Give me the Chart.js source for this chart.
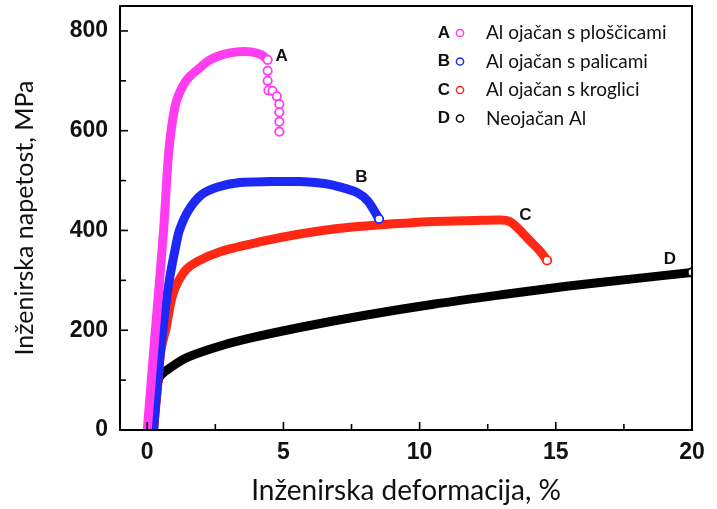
<!DOCTYPE html>
<html>
<head>
<meta charset="utf-8">
<script src="https://cdn.jsdelivr.net/npm/chart.js@4/dist/chart.umd.min.js"></script>
<style>
  html, body { margin: 0; padding: 0; background: #fff; }
  #wrap { width: 717px; height: 509px; }
</style>
</head>
<body>
<div id="wrap"><canvas id="stressChart"></canvas></div>
<script>
// Curve A - Al ojačan s ploščicami
const strainA = [0, 0.3, 0.6, 0.76, 0.88, 1.06, 1.31, 1.55, 1.86, 2.3, 2.8, 3.3, 3.8, 4.2, 4.42];
const stressA = [0, 200, 400, 537, 602, 657, 690, 708, 723, 742, 753, 758, 758, 752, 742];
// open circles after the peak of A
const tailStrainA = [4.42, 4.42, 4.42, 4.45, 4.6, 4.76, 4.85, 4.85, 4.85, 4.85];
const tailStressA = [742, 720, 700, 681, 680, 669, 653, 637, 618, 598];

// Curve B - Al ojačan s palicami
const strainB = [0.23, 0.39, 0.57, 0.81, 1.06, 1.18, 1.49, 1.98, 2.59, 3.4, 4.5, 5.6, 6.5, 7.1, 7.7, 8.1, 8.51];
const stressB = [0, 100, 200, 300, 372, 400, 438, 471, 487, 496, 498, 498, 494, 487, 476, 459, 423];

// Curve C - Al ojačan s kroglici
const strainC = [0.23, 0.4, 0.5, 0.7, 0.94, 1.37, 1.85, 2.7, 4.2, 5.6, 7.0, 8.45, 10.5, 12.0, 12.97, 13.3, 13.6, 14.07, 14.4, 14.68];
const stressC = [0, 100, 160, 206, 272, 318, 338, 358, 378, 393, 404, 411, 418, 420, 421, 418, 405, 378, 360, 340];

// Curve D - Neojačan Al
const strainD = [0.23, 0.3, 0.45, 0.88, 1.49, 2.71, 3.93, 5.64, 8.0, 10.5, 13.0, 15.4, 18.0, 20.0];
const stressD = [0, 60, 106, 126, 146, 169, 186, 206, 230, 252, 271, 288, 304, 316];

const seriesLetters = ['A', 'B', 'C', 'D'];
const seriesNames = ['Al ojačan s ploščicami', 'Al ojačan s palicami', 'Al ojačan s kroglici', 'Neojačan Al'];
const seriesColors = ['#ff3cf0', '#1e28f5', '#ff2814', '#000000'];

// where the letters A-D stand next to the curves (data units)
const letterStrain = [4.93, 7.86, 13.88, 19.19];
const letterStress = [750, 506, 431, 343];

const xTickValues = [0, 2.5, 5, 7.5, 10, 12.5, 15, 17.5, 20];
const xTickLabels = [0, 5, 10, 15, 20];
const yTickValues = [0, 100, 200, 300, 400, 500, 600, 700, 800];
const yTickLabels = [0, 200, 400, 600, 800];

function toPoints(xs, ys) {
    return xs.map((x, i) => ({ x: x, y: ys[i] }));
}

const curves = [
    [strainA, stressA],
    [strainB, stressB],
    [strainC, stressC],
    [strainD, stressD]
];

const datasets = [];
curves.forEach((c, i) => {
    datasets.push({
        label: seriesNames[i],
        data: toPoints(c[0], c[1]),
        showLine: true,
        borderColor: seriesColors[i],
        borderWidth: 9,
        borderCapStyle: 'round',
        borderJoinStyle: 'round',
        tension: 0.3,
        pointRadius: 0,
        order: i + 1
    });
});

// end markers (open circles)
const endPoints = [
    toPoints(tailStrainA, tailStressA),
    [{ x: strainB[strainB.length - 1], y: stressB[stressB.length - 1] }],
    [{ x: strainC[strainC.length - 1], y: stressC[stressC.length - 1] }],
    [{ x: strainD[strainD.length - 1], y: stressD[stressD.length - 1] }]
];
endPoints.forEach((pts, i) => {
    datasets.push({
        label: seriesLetters[i] + ' end',
        data: pts,
        showLine: false,
        pointRadius: 4.2,
        pointBorderWidth: 1.8,
        pointBackgroundColor: '#ffffff',
        pointBorderColor: seriesColors[i],
        order: 0
    });
});

// no extra room for half tick labels, layout padding decides the plot box
function noLabelPadding(scale) {
    scale.paddingTop = 0;
    scale.paddingBottom = 0;
    scale.paddingLeft = 0;
    scale.paddingRight = 0;
}

const frameAndLegend = {
    id: 'frameAndLegend',
    afterDatasetsDraw(chart) {
        const ctx = chart.ctx;
        const area = chart.chartArea;
        const xs = chart.scales.x;
        const ys = chart.scales.y;
        ctx.save();

        // frame
        ctx.strokeStyle = '#000';
        ctx.lineWidth = 2;
        ctx.strokeRect(area.left, area.top, area.right - area.left, area.bottom - area.top);

        // inward tick marks
        ctx.lineWidth = 1.6;
        xTickValues.forEach(v => {
            const px = xs.getPixelForValue(v);
            const len = xTickLabels.includes(v) ? 8 : 6;
            ctx.beginPath();
            ctx.moveTo(px, area.bottom);
            ctx.lineTo(px, area.bottom - len);
            ctx.stroke();
        });
        yTickValues.forEach(v => {
            const py = ys.getPixelForValue(v);
            const len = yTickLabels.includes(v) ? 8 : 6;
            ctx.beginPath();
            ctx.moveTo(area.left, py);
            ctx.lineTo(area.left + len, py);
            ctx.stroke();
        });

        // letters next to the curves
        ctx.font = 'bold 17px "Liberation Sans", Arial, sans-serif';
        ctx.fillStyle = '#111';
        ctx.textAlign = 'center';
        ctx.textBaseline = 'middle';
        seriesLetters.forEach((l, i) => {
            ctx.fillText(l, xs.getPixelForValue(letterStrain[i]), ys.getPixelForValue(letterStress[i]));
        });

        // legend
        const lx = area.right - 248;
        const ly = area.top + 27;
        seriesLetters.forEach((l, i) => {
            const y = ly + i * 28.5;
            ctx.font = 'bold 17px "Liberation Sans", Arial, sans-serif';
            ctx.fillStyle = '#111';
            ctx.textAlign = 'center';
            ctx.fillText(l, lx, y);
            ctx.beginPath();
            ctx.arc(lx + 16, y, 3.6, 0, Math.PI * 2);
            ctx.fillStyle = '#fff';
            ctx.fill();
            ctx.lineWidth = 1.5;
            ctx.strokeStyle = seriesColors[i];
            ctx.stroke();
            ctx.font = '19px Lato, "Open Sans", sans-serif';
            ctx.fillStyle = '#111';
            ctx.textAlign = 'left';
            ctx.fillText(seriesNames[i], lx + 42, y);
        });
        ctx.restore();
    }
};

const chart = new Chart(document.getElementById('stressChart'), {
    type: 'scatter',
    data: { datasets: datasets },
    options: {
        responsive: true,
        maintainAspectRatio: false,
        animation: false,
        layout: { padding: { top: 3, right: 25, left: 0, bottom: 0 } },
        plugins: {
            legend: { display: false },
            tooltip: { enabled: false }
        },
        scales: {
            x: {
                type: 'linear',
                min: -1,
                max: 20,
                grid: { display: false, drawTicks: false },
                border: { display: false },
                afterBuildTicks: scale => {
                    scale.ticks = xTickValues.map(v => ({ value: v }));
                },
                afterFit: scale => {
                    scale.height = 79;
                    noLabelPadding(scale);
                },
                ticks: {
                    autoSkip: false,
                    maxRotation: 0,
                    padding: 9,
                    color: '#111',
                    font: { family: '"Liberation Sans", Arial, sans-serif', size: 23, weight: 'bold' },
                    callback: v => xTickLabels.includes(v) ? String(v) : ''
                },
                title: {
                    display: true,
                    text: 'Inženirska deformacija, %',
                    color: '#111',
                    font: { family: 'Lato, "Open Sans", sans-serif', size: 28 },
                    padding: { top: 0, bottom: 1 }
                }
            },
            y: {
                type: 'linear',
                min: 0,
                max: 850,
                grid: { display: false, drawTicks: false },
                border: { display: false },
                afterBuildTicks: scale => {
                    scale.ticks = yTickValues.map(v => ({ value: v }));
                },
                afterFit: scale => {
                    scale.width = 120;
                    noLabelPadding(scale);
                },
                ticks: {
                    autoSkip: false,
                    padding: 12,
                    color: '#111',
                    font: { family: '"Liberation Sans", Arial, sans-serif', size: 23, weight: 'bold' },
                    callback: v => yTickLabels.includes(v) ? String(v) : ''
                },
                title: {
                    display: true,
                    text: 'Inženirska napetost, MPa',
                    color: '#111',
                    font: { family: 'Lato, "Open Sans", sans-serif', size: 25 },
                    padding: { top: 10, bottom: 0 }
                }
            }
        }
    },
    plugins: [frameAndLegend]
});
</script>
</body>
</html>
